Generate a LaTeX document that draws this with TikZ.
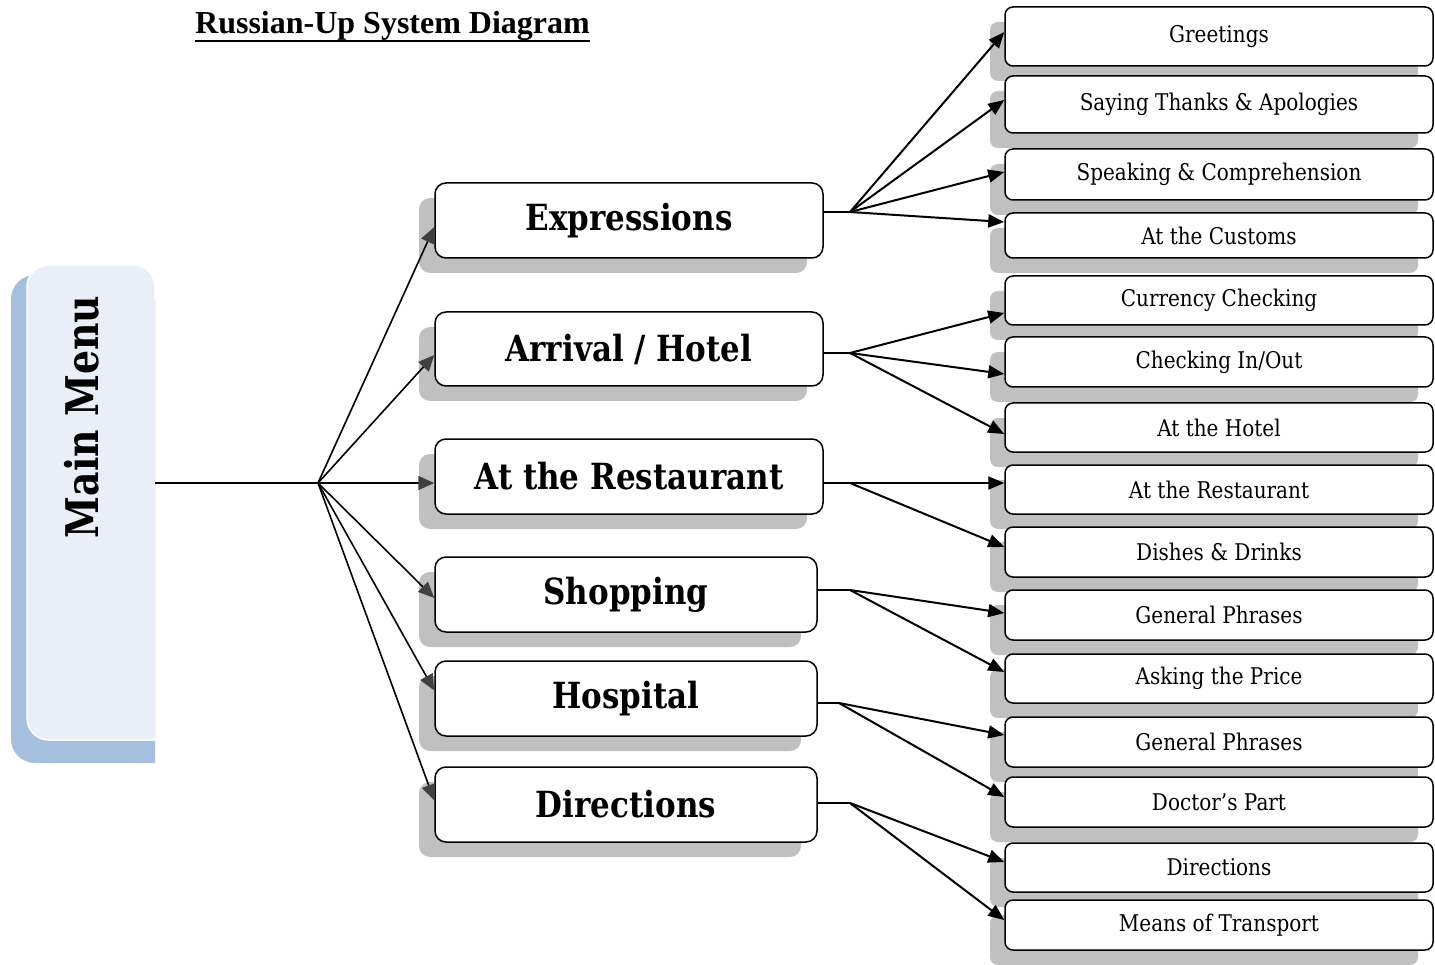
\documentclass[tikz,border=0pt]{standalone}
\usepackage{fontspec}
\setmainfont{Liberation Serif}
\newfontfamily\subfont[FakeStretch=0.87]{DejaVu Serif}
\newfontfamily\midfont[FakeStretch=0.86]{DejaVu Serif}
\newfontfamily\menufont[FakeStretch=0.84]{DejaVu Serif}
\usetikzlibrary{arrows.meta,calc,shadows}

\definecolor{shadowgray}{HTML}{C0C0C0}
\definecolor{menufill}{HTML}{EAEFF7}
\definecolor{menushadow}{HTML}{A7BFDE}
\definecolor{headgray}{HTML}{404040}

\begin{document}
\begin{tikzpicture}[x=1pt, y=-1pt,
  midbox/.style={draw=black, line width=1.5pt, fill=white, rounded corners=11pt,
    minimum height=75pt, inner sep=0pt,
    font=\midfont\bfseries\fontsize{36}{40}\selectfont,
    general shadow={fill=shadowgray, shadow xshift=-16pt, shadow yshift=-15pt}},
  subbox/.style={draw=black, line width=1.5pt, fill=white, rounded corners=8pt,
    minimum width=428pt, inner sep=0pt,
    font=\subfont\fontsize{23}{26}\selectfont,
    general shadow={fill=shadowgray, shadow xshift=-15pt, shadow yshift=-15pt}},
  link/.style={line width=1.6pt},
  hubarrow/.style={line width=1.6pt, -{Triangle[length=16pt,width=14pt,color=headgray]}},
  fanarrow/.style={line width=2pt, -{Triangle[length=16pt,width=13pt]}}
]
\useasboundingbox (0,0) rectangle (1435,965);
\fill[white] (0,0) rectangle (1435,965);

% title
\node[anchor=base west, inner sep=0pt, font=\bfseries\fontsize{32}{36}\selectfont]
  (title) at (195,34) {Russian-Up System Diagram};
\draw[line width=2.8pt] ($(title.base west)+(0,7)$) -- ($(title.base east)+(0,7)$);

% main menu panel
\fill[menushadow, rounded corners=24pt] (155,763) -- (11,763) -- (11,275) -- (155,275) -- (155,763);
\fill[menufill, rounded corners=22pt] (155,740) -- (27,740) -- (27,265) -- (155,265) -- (155,740);
\draw[white, line width=1.5pt, rounded corners=22pt] (155,740) -- (27,740) -- (27,265) -- (155,265) -- (155,300);
\node[rotate=90, inner sep=0pt, font=\menufont\bfseries\fontsize{45}{50}\selectfont]
  (mainmenu) at (82,417) {Main Menu};
\coordinate (menuout) at (155,483);
\coordinate (hub) at (318,483);
\draw[link] (menuout) -- (hub);

% first level
\node[midbox, minimum width=388pt] (expr) at (629,220.5) {Expressions};
\node[midbox, minimum width=388pt, minimum height=74pt] (arr) at (629,349) {Arrival / Hotel};
\node[midbox, minimum width=388pt] (rest) at (629,476.5) {At the Restaurant};
\node[midbox, minimum width=382pt] (shop) at (626,594.5) {Shopping};
\node[midbox, minimum width=382pt] (hosp) at (626,698.5) {Hospital};
\node[midbox, minimum width=382pt] (dirs) at (626,804.5) {Directions};

\draw[hubarrow] (hub) -- ($(expr.west)+(0,6.5)$);
\draw[hubarrow] (hub) -- ($(arr.west)+(0,6)$);
\draw[hubarrow] (hub) -- ($(rest.west)+(0,6.5)$);
\draw[hubarrow] (hub) -- ($(shop.west)+(0,3.5)$);
\draw[hubarrow] (hub) -- ($(hosp.west)+(0,-8)$);
\draw[hubarrow] (hub) -- ($(dirs.west)+(0,-4)$);

% second level
\node[subbox, minimum height=59pt] (greet) at (1219,36.5) {Greetings};
\node[subbox, minimum height=57pt] (thanks) at (1219,104.5) {Saying Thanks \& Apologies};
\node[subbox, minimum height=51pt] (speak) at (1219,174.5) {Speaking \& Comprehension};
\node[subbox, minimum height=45pt] (customs) at (1219,235.5) {At the Customs};
\node[subbox, minimum height=49pt] (currency) at (1219,300.5) {Currency Checking};
\node[subbox, minimum height=50pt] (checkio) at (1219,362) {Checking In/Out};
\node[subbox, minimum height=49pt] (hotel) at (1219,427.5) {At the Hotel};
\node[subbox, minimum height=49pt] (subrest) at (1219,489.5) {At the Restaurant};
\node[subbox, minimum height=50pt] (dishes) at (1219,552) {Dishes \& Drinks};
\node[subbox, minimum height=50pt] (genshop) at (1219,615) {General Phrases};
\node[subbox, minimum height=49pt] (price) at (1219,678.5) {Asking the Price};
\node[subbox, minimum height=50pt] (genhosp) at (1219,742) {General Phrases};
\node[subbox, minimum height=50pt] (doctor) at (1219,802) {Doctor’s Part};
\node[subbox, minimum height=49pt] (subdir) at (1219,867.5) {Directions};
\node[subbox, minimum height=50pt] (transport) at (1219,925) {Means of Transport};

% branch points
\coordinate (fe) at (850,212);
\coordinate (fa) at (850,353);
\coordinate (fr) at (850,483);
\coordinate (fs) at (850,590);
\coordinate (fh) at (839,703);
\coordinate (fd) at (850,803);

\draw[link] (expr.east |- fe) -- (fe);
\draw[link] (arr.east |- fa) -- (fa);
\draw[link] (rest.east |- fr) -- (fr);
\draw[link] (shop.east |- fs) -- (fs);
\draw[link] (hosp.east |- fh) -- (fh);
\draw[link] (dirs.east |- fd) -- (fd);

\draw[fanarrow] (fe) -- ($(greet.west)+(0,-4.5)$);
\draw[fanarrow] (fe) -- ($(thanks.west)+(0,-4.5)$);
\draw[fanarrow] (fe) -- ($(speak.west)+(0,-2.5)$);
\draw[fanarrow] (fe) -- ($(customs.west)+(0,-13.5)$);

\draw[fanarrow] (fa) -- ($(currency.west)+(0,12.5)$);
\draw[fanarrow] (fa) -- ($(checkio.west)+(0,12)$);
\draw[fanarrow] (fa) -- ($(hotel.west)+(0,6.5)$);

\draw[fanarrow] (fr) -- ($(subrest.west)+(0,-6.5)$);
\draw[fanarrow] (fr) -- ($(dishes.west)+(0,-5)$);

\draw[fanarrow] (fs) -- ($(genshop.west)+(0,-2)$);
\draw[fanarrow] (fs) -- ($(price.west)+(0,-6.5)$);

\draw[fanarrow] (fh) -- ($(genhosp.west)+(0,-7)$);
\draw[fanarrow] (fh) -- ($(doctor.west)+(0,-5)$);

\draw[fanarrow] (fd) -- ($(subdir.west)+(0,-5.5)$);
\draw[fanarrow] (fd) -- ($(transport.west)+(0,-5)$);
\end{tikzpicture}
\end{document}
